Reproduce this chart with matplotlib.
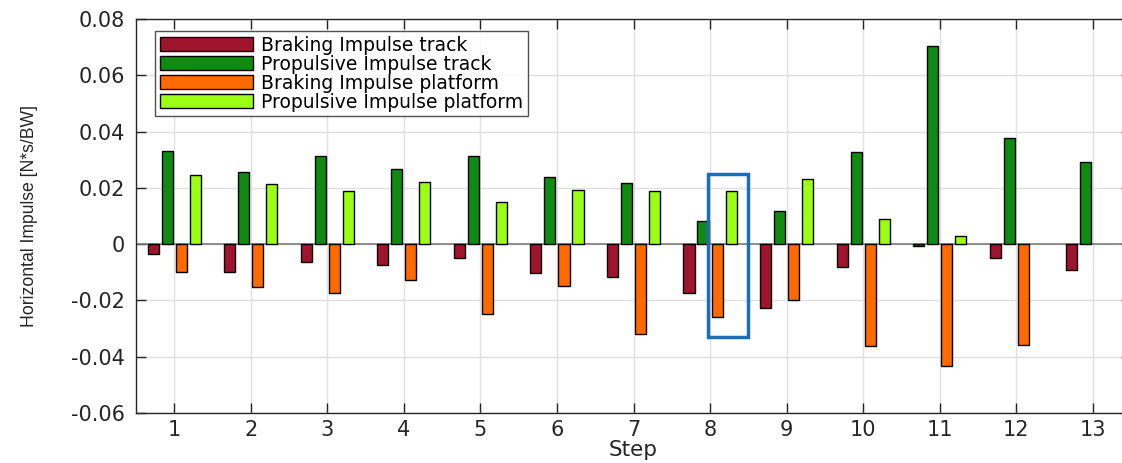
import matplotlib
matplotlib.use("Agg")
import matplotlib.pyplot as plt
from matplotlib.patches import Rectangle
import numpy as np

plt.rcParams['font.family'] = ['DejaVu Sans']
plt.rcParams['axes.unicode_minus'] = False

steps = list(range(1, 14))
braking_track = [-0.0034, -0.0098, -0.0063, -0.0074, -0.0050, -0.0103, -0.0117,
                 -0.0174, -0.0227, -0.0081, -0.0008, -0.0051, -0.0091]
propulsive_track = [0.0330, 0.0255, 0.0312, 0.0267, 0.0313, 0.0240, 0.0218,
                    0.0084, 0.0117, 0.0327, 0.0705, 0.0376, 0.0291]
braking_platform = [-0.0100, -0.0153, -0.0175, -0.0126, -0.0248, -0.0150, -0.0319,
                    -0.0260, -0.0199, -0.0363, -0.0433, -0.0360, 0.0]
propulsive_platform = [0.0244, 0.0214, 0.0188, 0.0221, 0.0148, 0.0192, 0.0188,
                       0.0188, 0.0230, 0.0089, 0.0028, 0.0, 0.0]

series = [
    ("Braking Impulse track", braking_track, "#A0142E"),
    ("Propulsive Impulse track", propulsive_track, "#118A11"),
    ("Braking Impulse platform", braking_platform, "#FF6A00"),
    ("Propulsive Impulse platform", propulsive_platform, "#9BFF14"),
]
offsets = [-0.275, -0.092, 0.092, 0.275]
ancho = 0.145

# Caja azul que marca el paso 8
caja_x = (7.97, 8.49)
caja_y = (-0.033, 0.025)

fig = plt.figure(figsize=(11.22, 4.63), dpi=100)
ax = fig.add_axes([136 / 1122, 50 / 463, 995 / 1122, 394 / 463])

x = np.array(steps)
for (nombre, valores, color), off in zip(series, offsets):
    # las barras de valor cero no se ven en el original
    lw = [1.0 if v != 0 else 0.0 for v in valores]
    ax.bar(x + off, valores, width=ancho, color=color, edgecolor="black",
           linewidth=lw, label=nombre, zorder=3)

ax.axhline(0, color="#7a7a7a", linewidth=1.2, zorder=2)

ax.add_patch(Rectangle((caja_x[0], caja_y[0]), caja_x[1] - caja_x[0],
                       caja_y[1] - caja_y[0], fill=False, edgecolor="#1B6FBA",
                       linewidth=2.5, zorder=5))

ax.set_xlim(0.5, 13.5)
ax.set_ylim(-0.06, 0.08)
ax.set_xticks(steps)
yt = [-0.06, -0.04, -0.02, 0, 0.02, 0.04, 0.06, 0.08]
ax.set_yticks(yt)
ax.set_yticklabels(["-0.06", "-0.04", "-0.02", "0", "0.02", "0.04", "0.06", "0.08"])
ax.tick_params(direction="in", length=7, width=1, top=True, right=True,
               labelsize=15, colors="#262626", pad=8)
ax.tick_params(axis="x", pad=5)
ax.grid(True, color="#e0e0e0", linewidth=1.0, zorder=0)
ax.set_axisbelow(True)
for s in ax.spines.values():
    s.set_color("#262626")
    s.set_linewidth(1.0)

ax.set_xlabel("Step", fontsize=15.5, color="#262626", labelpad=0)
ax.set_ylabel("Horizontal Impulse [N*s/BW]", fontsize=12.7, color="#262626",
              family="Liberation Sans", labelpad=24)

leg = ax.legend(loc="upper left", bbox_to_anchor=(0.019, 0.97), fontsize=13.5,
                frameon=True, fancybox=False, edgecolor="#262626",
                handlelength=5.0, handleheight=0.7, labelspacing=0.0,
                borderpad=0.25, handletextpad=0.4, borderaxespad=0)
leg.get_frame().set_linewidth(1.0)

fig.savefig("out.png", dpi=100)
